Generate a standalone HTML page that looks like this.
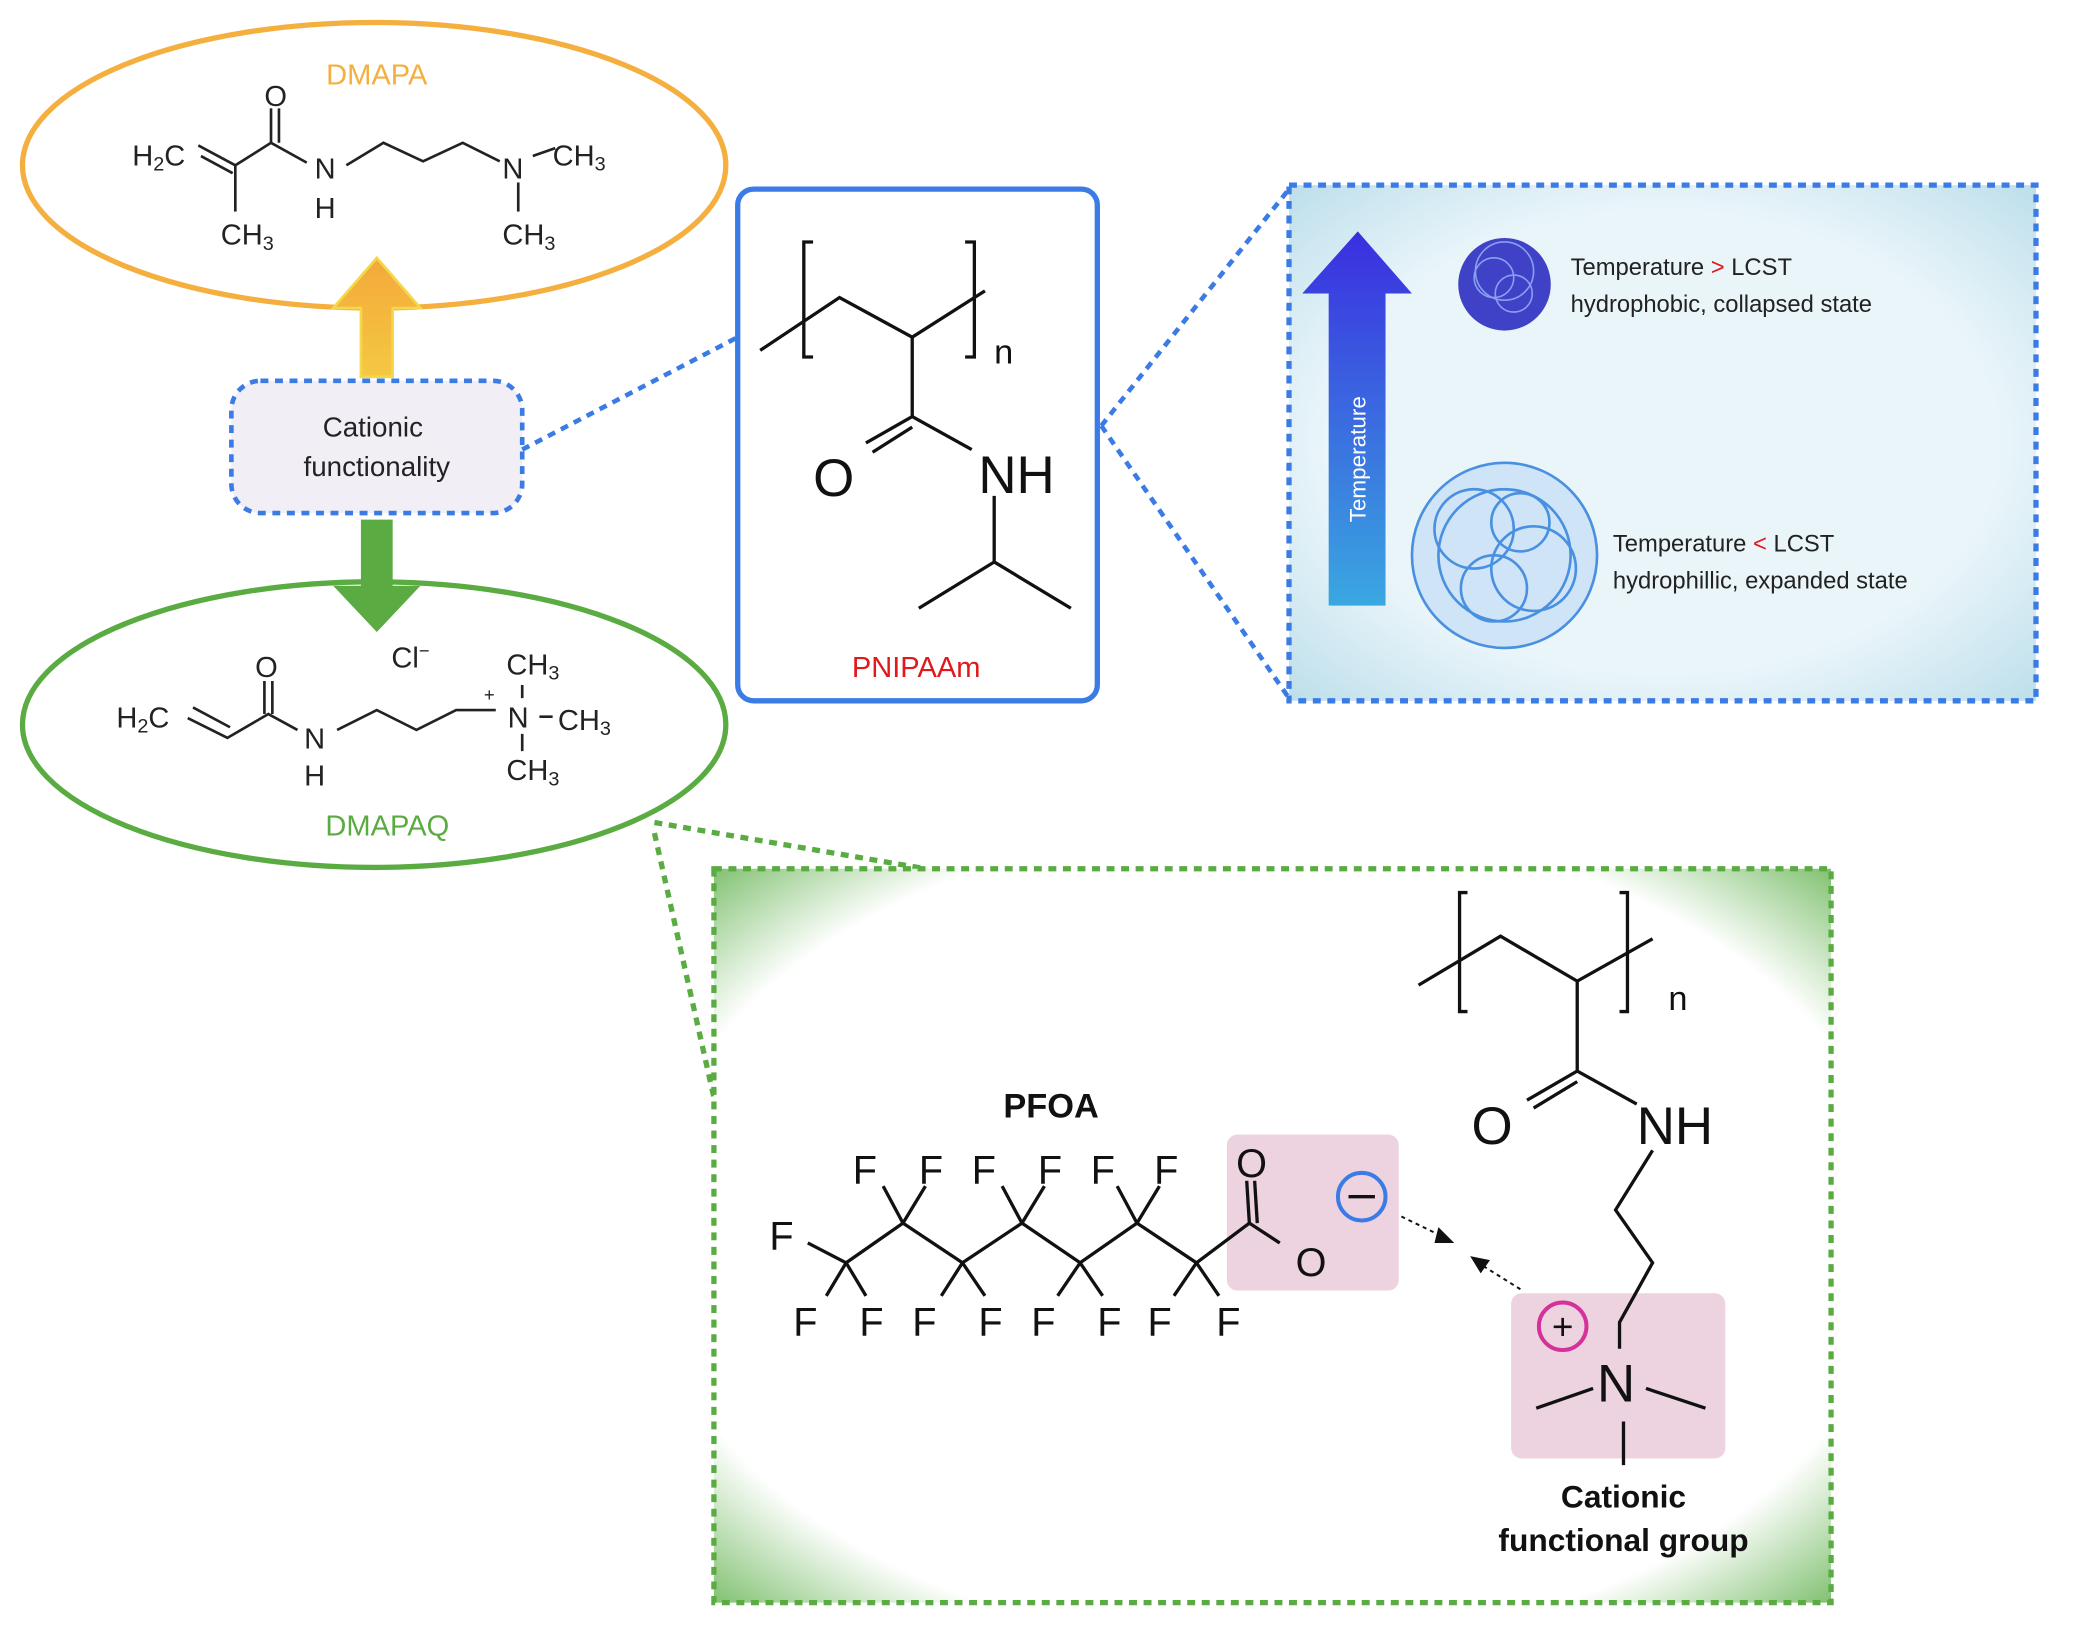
<!DOCTYPE html>
<html><head><meta charset="utf-8"><style>
html,body{margin:0;padding:0;background:#fff}
svg{display:block}
text{font-family:"Liberation Sans",sans-serif}
</style></head><body>
<svg width="2073" height="1637" viewBox="0 0 1568 1238" preserveAspectRatio="none" xmlns="http://www.w3.org/2000/svg">
<defs>
<linearGradient id="oa" x1="0" y1="0" x2="0" y2="1"><stop offset="0" stop-color="#f3a93a"/><stop offset="1" stop-color="#f5c842"/></linearGradient>
<linearGradient id="ta" x1="0" y1="0" x2="0" y2="1"><stop offset="0" stop-color="#3a2ee0"/><stop offset="1" stop-color="#3aa8e0"/></linearGradient>
<radialGradient id="gb" cx="0.5" cy="0.5" r="0.75"><stop offset="0.75" stop-color="#fff"/><stop offset="1" stop-color="#5caf48"/></radialGradient>
<radialGradient id="bb" cx="0.5" cy="0.5" r="0.75"><stop offset="0.6" stop-color="#eaf5fa"/><stop offset="1" stop-color="#b5dbe8"/></radialGradient>
</defs>

<ellipse cx="283" cy="125" rx="266" ry="108" fill="none" stroke="#f4af3f" stroke-width="4"/>
<text x="285" y="64" font-size="22" fill="#f4af3f" text-anchor="middle">DMAPA</text>
<g stroke="#222" stroke-width="2" fill="none">
<path d="M150 110 L178 125 L205 108 L232 123"/><path d="M152 118 L176 131"/>
<path d="M178 125 L178 160"/><path d="M205 108 L205 82 M211 108 L211 82"/>
<path d="M262 125 L290 108 L320 122 L350 108 L378 122"/>
<path d="M403 118 L420 112"/><path d="M392 138 L392 160"/>
</g>
<g font-size="22" fill="#222">
<text x="100" y="125">H<tspan font-size="15" dy="4">2</tspan><tspan dy="-4">C</tspan></text>
<text x="200" y="80">O</text>
<text x="238" y="135">N</text><text x="238" y="165">H</text>
<text x="167" y="185">CH<tspan font-size="15" dy="4">3</tspan></text>
<text x="380" y="135">N</text>
<text x="418" y="125">CH<tspan font-size="15" dy="4">3</tspan></text>
<text x="380" y="185">CH<tspan font-size="15" dy="4">3</tspan></text>
</g>

<path d="M273 285 L273 233 L252 233 L285 195 L318 233 L297 233 L297 285 Z" fill="url(#oa)" stroke="#f5d84a" stroke-width="2"/>

<rect x="175" y="288" width="220" height="100" rx="22" fill="#f2eef5" stroke="#3b7be5" stroke-width="3.5" stroke-dasharray="6 5"/>
<text x="282" y="330" font-size="21" text-anchor="middle" fill="#222">Cationic</text>
<text x="285" y="360" font-size="21" text-anchor="middle" fill="#222">functionality</text>
<line x1="395" y1="340" x2="558" y2="255" stroke="#3b7be5" stroke-width="3.5" stroke-dasharray="6 5"/>

<path d="M273 393 L273 443 L252 443 L285 478 L318 443 L297 443 L297 393 Z" fill="#5aab42"/>

<ellipse cx="283" cy="548" rx="266" ry="108" fill="none" stroke="#5aab42" stroke-width="4"/>
<text x="293" y="632" font-size="22" fill="#5aab42" text-anchor="middle">DMAPAQ</text>
<g stroke="#222" stroke-width="2" fill="none">
<path d="M142 543 L172 558 L203 540 L225 552"/><path d="M146 535 L174 550"/>
<path d="M200 540 L200 515 M206 540 L206 515"/>
<path d="M255 552 L285 537 L315 552 L345 537 L375 537"/>
<path d="M395 518 L395 528 M395 555 L395 568 M408 542 L418 542"/>
</g>
<g font-size="22" fill="#222">
<text x="88" y="550">H<tspan font-size="15" dy="4">2</tspan><tspan dy="-4">C</tspan></text>
<text x="193" y="512">O</text>
<text x="230" y="566">N</text><text x="230" y="594">H</text>
<text x="296" y="505">Cl<tspan font-size="14" dy="-8">−</tspan></text>
<text x="383" y="510">CH<tspan font-size="15" dy="4">3</tspan></text>
<text x="366" y="530" font-size="14">+</text>
<text x="384" y="550">N</text>
<text x="422" y="552">CH<tspan font-size="15" dy="4">3</tspan></text>
<text x="383" y="590">CH<tspan font-size="15" dy="4">3</tspan></text>
</g>

<rect x="558" y="143" width="272" height="387" rx="12" fill="#fff" stroke="#3b7be5" stroke-width="4"/>
<g stroke="#111" stroke-width="2.5" fill="none">
<path d="M575 265 L635 225 L690 255 L745 220"/>
<path d="M615 183 L608 183 L608 270 L615 270"/><path d="M730 183 L737 183 L737 270 L730 270"/>
<path d="M690 255 L690 315 L655 335 M690 323 L660 342"/>
<path d="M690 315 L735 340"/>
<path d="M752 375 L752 425 L695 460 M752 425 L810 460"/>
</g>
<text x="752" y="275" font-size="26" fill="#111">n</text>
<text x="615" y="375" font-size="40" fill="#111">O</text>
<text x="740" y="373" font-size="40" fill="#111">NH</text>
<text x="693" y="512" font-size="22" fill="#e0191c" text-anchor="middle">PNIPAAm</text>

<line x1="833" y1="322" x2="975" y2="143" stroke="#3b7be5" stroke-width="3.5" stroke-dasharray="6 5"/>
<line x1="833" y1="322" x2="975" y2="528" stroke="#3b7be5" stroke-width="3.5" stroke-dasharray="6 5"/>

<rect x="975" y="140" width="565" height="390" fill="url(#bb)" stroke="#3b7be5" stroke-width="4" stroke-dasharray="6 5"/>
<path d="M1005 458 L1005 222 L985 222 L1027 175 L1068 222 L1048 222 L1048 458 Z" fill="url(#ta)"/>
<text transform="translate(1033,395) rotate(-90)" font-size="17" fill="#fff">Temperature</text>
<circle cx="1138" cy="215" r="35" fill="#2c2fc0" opacity="0.9"/>
<g fill="none" stroke="#8aa0f0" stroke-width="1.2">
<circle cx="1130" cy="210" r="15"/><circle cx="1145" cy="222" r="14"/><circle cx="1138" cy="205" r="22"/>
</g>
<circle cx="1138" cy="420" r="70" fill="#cfe5f7" stroke="#4a90e0" stroke-width="2"/>
<g fill="none" stroke="#4a90e0" stroke-width="2">
<circle cx="1115" cy="400" r="30"/><circle cx="1160" cy="430" r="32"/><circle cx="1130" cy="445" r="25"/><circle cx="1150" cy="395" r="22"/><circle cx="1138" cy="420" r="50"/>
</g>
<g font-size="18" fill="#222">
<text x="1188" y="208">Temperature <tspan fill="#e0191c">&gt;</tspan> LCST</text>
<text x="1188" y="236">hydrophobic, collapsed state</text>
<text x="1220" y="417">Temperature <tspan fill="#e0191c">&lt;</tspan> LCST</text>
<text x="1220" y="445">hydrophillic, expanded  state</text>
</g>

<line x1="495" y1="622" x2="700" y2="657" stroke="#5aab42" stroke-width="4" stroke-dasharray="6 5"/>
<line x1="495" y1="630" x2="540" y2="830" stroke="#5aab42" stroke-width="4" stroke-dasharray="6 5"/>

<rect x="540" y="657" width="845" height="555" fill="url(#gb)" stroke="#5aab42" stroke-width="4" stroke-dasharray="6 5"/>

<rect x="928" y="858" width="130" height="118" rx="8" fill="#ecd3df"/>
<rect x="1143" y="978" width="162" height="125" rx="8" fill="#ecd3df"/>
<g stroke="#111" stroke-width="2.5" fill="none">
<path d="M1073 745 L1135 708 L1193 742 L1250 710"/>
<path d="M1110 675 L1104 675 L1104 765 L1110 765"/><path d="M1225 675 L1231 675 L1231 765 L1225 765"/>
<path d="M1193 742 L1193 810 L1155 832 M1193 818 L1160 838"/>
<path d="M1193 810 L1238 835"/>
<path d="M1250 870 L1222 915 L1250 955 L1225 1000 L1225 1020"/>
<path d="M1205 1050 L1162 1065 M1245 1050 L1290 1065 M1228 1075 L1228 1108"/>
<path d="M611 940 L640 955 L683 925 L728 955 L773 925 L817 955 L860 925 L905 955 L945 925 L968 940"/>
<path d="M945 925 L943 893 M951 925 L949 893"/>
<path d="M683 925 L668 897 M683 925 L700 897 M773 925 L758 897 M773 925 L790 897 M860 925 L845 897 M860 925 L877 897"/>
<path d="M640 955 L625 980 M640 955 L655 980 M728 955 L712 980 M728 955 L745 980 M817 955 L800 980 M817 955 L834 980 M905 955 L888 980 M905 955 L922 980"/>
</g>
<text x="1262" y="764" font-size="26" fill="#111">n</text>
<text x="1113" y="865" font-size="40" fill="#111">O</text>
<text x="1238" y="865" font-size="40" fill="#111">NH</text>
<text x="1208" y="1060" font-size="40" fill="#111">N</text>
<circle cx="1182" cy="1003" r="18" fill="none" stroke="#d6309a" stroke-width="3"/>
<text x="1182" y="1013" font-size="28" text-anchor="middle" fill="#111">+</text>
<circle cx="1030" cy="905" r="18" fill="none" stroke="#3b7be5" stroke-width="3"/>
<line x1="1020" y1="905" x2="1040" y2="905" stroke="#111" stroke-width="2.5"/>
<path d="M1060 920 L1095 937" stroke="#111" stroke-width="1.5" stroke-dasharray="3 3"/>
<path d="M1100 940 L1088 928 L1085 940 Z" fill="#111"/>
<path d="M1150 975 L1118 955" stroke="#111" stroke-width="1.5" stroke-dasharray="3 3"/>
<path d="M1112 950 L1127 953 L1120 963 Z" fill="#111"/>
<g font-size="30" fill="#111">
<text x="795" y="845" font-size="26" font-weight="bold" text-anchor="middle">PFOA</text>
<text x="582" y="945">F</text>
<text x="645" y="895">F</text><text x="695" y="895">F</text>
<text x="735" y="895">F</text><text x="785" y="895">F</text>
<text x="825" y="895">F</text><text x="873" y="895">F</text>
<text x="600" y="1010">F</text><text x="650" y="1010">F</text>
<text x="690" y="1010">F</text><text x="740" y="1010">F</text>
<text x="780" y="1010">F</text><text x="830" y="1010">F</text>
<text x="868" y="1010">F</text><text x="920" y="1010">F</text>
<text x="935" y="890">O</text><text x="980" y="965">O</text>
</g>
<text x="1228" y="1140" font-size="24" font-weight="bold" text-anchor="middle" fill="#111">Cationic</text>
<text x="1228" y="1173" font-size="24" font-weight="bold" text-anchor="middle" fill="#111">functional group</text>
</svg>
</body></html>
